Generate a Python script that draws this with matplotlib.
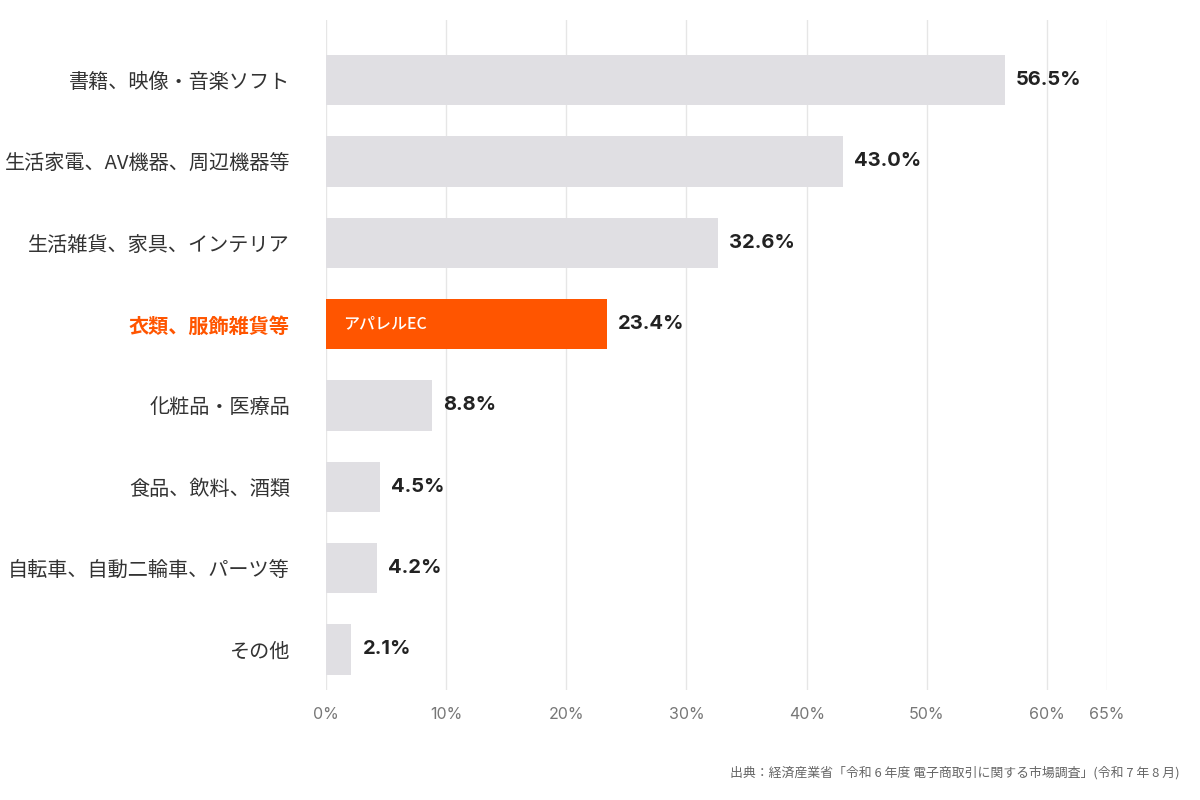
import matplotlib
matplotlib.use("Agg")
import matplotlib.pyplot as plt

plt.rcParams['font.family'] = ['Noto Sans CJK JP', 'DejaVu Sans']

categories = ["書籍、映像・音楽ソフト", "生活家電、AV機器、周辺機器等", "生活雑貨、家具、インテリア",
              "衣類、服飾雑貨等", "化粧品・医療品", "食品、飲料、酒類",
              "自転車、自動二輪車、パーツ等", "その他"]
values = [56.5, 43.0, 32.6, 23.4, 8.8, 4.5, 4.2, 2.1]
highlight = "衣類、服飾雑貨等"
bar_note = "アパレルEC"
x_ticks = [0, 10, 20, 30, 40, 50, 60, 65]
source = "出典：経済産業省「令和 6 年度 電子商取引に関する市場調査」(令和 7 年 8 月)"

GRAY = "#e0dfe3"
ORANGE = "#ff5500"

fig = plt.figure(figsize=(12, 8), dpi=100)
ax = fig.add_axes([0.2717, 0.1375, 0.6508, 0.8375])

ypos = list(range(len(categories)))
colors = [ORANGE if c == highlight else GRAY for c in categories]
ax.barh(ypos, values, height=0.62, color=colors, zorder=2)

for y, v, c in zip(ypos, values, categories):
    ax.annotate(f"{v:.1f}%", (v, y), xytext=(8, 0), textcoords="offset points",
                ha="left", va="center", fontsize=14.5, fontweight="bold",
                color="#222222", family=['Inter', 'DejaVu Sans'])
    if c == highlight:
        ax.annotate(bar_note, (0, y), xytext=(12, 0), textcoords="offset points",
                    ha="left", va="center", fontsize=11.5, fontweight="medium",
                    color="white")

ax.set_xlim(0, 65)
ax.set_ylim(7.5, -0.74)
ax.set_xticks(x_ticks)
ax.set_xticklabels([f"{t}%" for t in x_ticks], fontsize=11.5, color="#777777",
                   family=['Inter', 'DejaVu Sans'])
ax.set_yticks(ypos)
ax.set_yticklabels(categories, fontsize=14.5, color="#333333")
for lbl in ax.get_yticklabels():
    if lbl.get_text() == highlight:
        lbl.set_color(ORANGE)
        lbl.set_fontweight("bold")
ax.tick_params(axis="y", length=0, pad=26)
ax.tick_params(axis="x", length=0, pad=12)
ax.grid(True, axis="x", color="#e6e6e6", linewidth=1, zorder=0)
for s in ax.spines.values():
    s.set_visible(False)

fig.text(0.983, 0.034, source, ha="right", va="center", fontsize=9.3, color="#666666")

fig.savefig("out.png", dpi=100)
